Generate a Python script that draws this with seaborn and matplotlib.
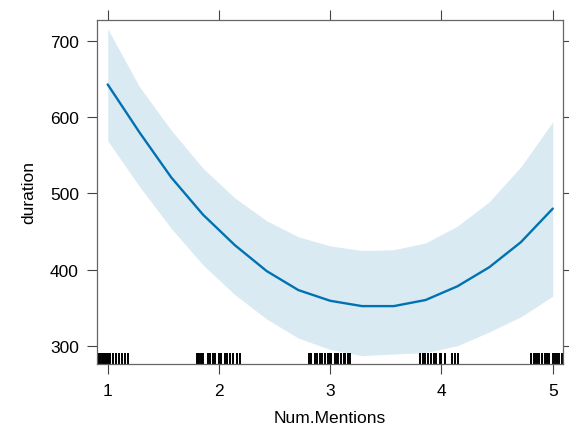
import numpy as np
import pandas as pd
import matplotlib
matplotlib.use("Agg")
import matplotlib.pyplot as plt
import seaborn as sns

# ---- data ----
num_mentions = [1.000, 1.286, 1.571, 1.857, 2.143, 2.429, 2.714, 3.000,
                3.286, 3.571, 3.857, 4.143, 4.429, 4.714, 5.000]
fit = [643, 580, 521, 472, 432, 398, 373, 359, 352, 352, 360, 378, 403, 436, 480]
upper = [716, 640, 583, 533, 494, 464, 443, 431, 425, 426, 435, 457, 489, 535, 594]
lower = [569, 509, 454, 406, 367, 335, 310, 295, 287, 289, 291, 300, 318, 338, 365]

rug_x = [0.915, 0.925, 0.935, 0.945, 0.955, 0.967, 0.977, 0.985, 0.995, 1.003, 1.012, 1.02,
         1.05, 1.072, 1.10, 1.13, 1.155, 1.185,
         1.80, 1.81, 1.82, 1.84, 1.85, 1.86, 1.90, 1.92, 1.95, 1.96, 2.00, 2.02, 2.05, 2.07,
         2.10, 2.13, 2.16, 2.19,
         2.81, 2.83, 2.86, 2.88, 2.91, 2.93, 2.95, 2.98, 3.00, 3.01, 3.04, 3.06, 3.07, 3.10,
         3.12, 3.13, 3.16, 3.18,
         3.81, 3.83, 3.85, 3.88, 3.91, 3.93, 3.95, 3.99, 4.00, 4.03, 4.09, 4.12, 4.15,
         4.80, 4.83, 4.84, 4.86, 4.88, 4.90, 4.93, 4.95, 4.97, 5.00, 5.02, 5.04, 5.06, 5.08]

x_ticks = [1, 2, 3, 4, 5]
y_ticks = [300, 400, 500, 600, 700]

df = pd.DataFrame({"Num.Mentions": num_mentions, "duration": fit,
                   "upper": upper, "lower": lower})
rug_df = pd.DataFrame({"Num.Mentions": rug_x})

sns.set_theme(style="white")
plt.rcParams["font.family"] = ["Liberation Sans", "DejaVu Sans"]

fig = plt.figure(figsize=(5.69, 4.35), dpi=100)
ax = fig.add_axes([97 / 569, 70 / 435, 466 / 569, 344.3 / 435])

line_color = "#0072B2"
ax.fill_between(df["Num.Mentions"], df["lower"], df["upper"],
                color=line_color, alpha=0.145, linewidth=0)
sns.lineplot(data=df, x="Num.Mentions", y="duration", ax=ax,
             color=line_color, linewidth=1.7)
sns.rugplot(data=rug_df, x="Num.Mentions", ax=ax, height=0.032,
            color="black", linewidth=1.4, expand_margins=False)

ax.set_xlim(0.904, 5.092)
ax.set_ylim(276, 728)
ax.set_xticks(x_ticks)
ax.set_yticks(y_ticks)
ax.set_xticklabels([str(v) for v in x_ticks])
ax.set_yticklabels([str(v) for v in y_ticks])

for s in ax.spines.values():
    s.set_visible(True)
    s.set_color("#666666")
    s.set_linewidth(0.9)

ax.tick_params(axis="both", which="major", direction="out", length=7,
               width=0.8, color="#444444", labelsize=12.5, labelcolor="black",
               top=True, right=True, bottom=True, left=True,
               labeltop=False, labelright=False)
ax.tick_params(axis="x", pad=7)
ax.tick_params(axis="y", pad=6)

ax.set_xlabel("Num.Mentions", fontsize=12.5, labelpad=8, color="black")
ax.set_ylabel("duration", fontsize=12.5, labelpad=10, color="black")
ax.grid(False)

fig.savefig("out.png", dpi=100)
